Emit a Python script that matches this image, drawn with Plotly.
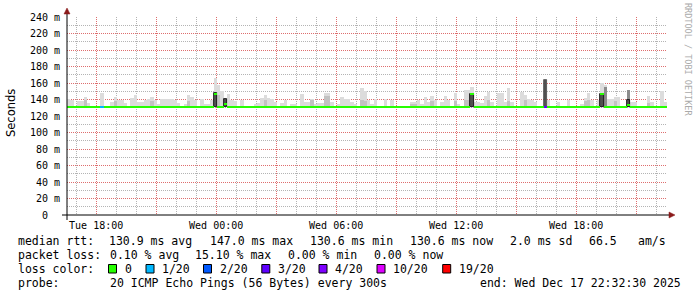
import pandas as pd
import plotly.graph_objects as go

# ---------------- data ----------------
start_time = pd.Timestamp("2025-12-16 16:32:30")
end_time = pd.Timestamp("2025-12-17 22:32:30")
step_minutes = 10
min_ping_ms = 130.6

N = None
# median rtt per 10-minute bin (ms)
median_ms = [
    130.8, 130.8, 130.8, 130.8, 130.8, 130.8, 130.8, 130.8, 130.8, 130.8,
    130.8, 130.8, 130.8, 130.8, 130.8, 130.8, 130.8, 130.8, 130.8, 130.8,
    130.8, 130.8, 130.8, 130.8, 130.8, 130.8, 130.8, 130.8, 130.8, 130.8,
    130.8, 130.8, 130.8, 130.8, 130.8, 130.8, 130.8, 130.8, 130.8, 130.8,
    130.8, 130.8, 130.8, 130.8, 146.6, 130.8, 130.8, 134.5, 130.8, 130.8,
    130.8, 130.8, 130.8, 130.8, 130.8, 130.8, 130.8, 130.8, 130.8, 130.8,
    130.8, 130.8, 130.8, 130.8, 130.8, 130.8, 130.8, 130.8, 130.8, 130.8,
    130.8, 130.8, 130.8, 130.8, 130.8, 130.8, 130.8, 130.8, 130.8, 130.8,
    130.8, 130.8, 130.8, 130.8, 130.8, 130.8, 130.8, 130.8, 130.8, 130.8,
    130.8, 130.8, 130.8, 130.8, 130.8, 130.8, 130.8, 130.8, 130.8, 130.8,
    130.8, 130.8, 130.8, 130.8, 130.8, 130.8, 130.8, 130.8, 130.8, 130.8,
    130.8, 130.8, 130.8, 130.8, 130.8, 130.8, 130.8, 130.8, 130.8, 130.8,
    130.8, 146.6, 130.8, 130.8, 130.8, 130.8, 130.8, 130.8, 130.8, 130.8,
    130.8, 130.8, 130.8, 130.8, 130.8, 130.8, 130.8, 130.8, 130.8, 130.8,
    130.8, 130.8, 130.8, 130.8, 130.8, 130.8, 130.8, 130.8, 130.8, 130.8,
    130.8, 130.8, 130.8, 130.8, 130.8, 130.8, 130.8, 130.8, 130.8, 130.8,
    146.6, 130.8, 130.8, 130.8, 130.8, 130.8, 130.8, 130.8, 133.5, 130.8,
    130.8, 130.8, 130.8, 130.8, 130.8, 130.8, 130.8, 130.8, 130.8, 130.8,
]

# lost pings (out of 20) per bin
loss_count = [
    0, 0, 0, 0, 0, 0, 0, 0, 0, 0,
    1, 0, 0, 0, 0, 0, 0, 0, 0, 0,
    0, 0, 0, 0, 0, 0, 0, 0, 0, 0,
    0, 0, 0, 0, 0, 0, 0, 0, 0, 0,
    0, 0, 0, 0, 0, 0, 0, 0, 0, 0,
    0, 0, 0, 0, 0, 0, 0, 0, 0, 0,
    0, 0, 0, 0, 0, 0, 0, 0, 0, 0,
    0, 0, 0, 0, 0, 0, 0, 0, 0, 0,
    0, 0, 0, 0, 0, 0, 0, 0, 0, 0,
    0, 0, 0, 0, 0, 0, 0, 0, 0, 0,
    0, 0, 0, 0, 0, 0, 0, 0, 0, 0,
    0, 0, 0, 0, 0, 0, 0, 0, 0, 0,
    0, 0, 0, 0, 0, 0, 0, 0, 0, 0,
    0, 0, 0, 0, 0, 0, 0, 0, 0, 0,
    0, 0, 0, 3, 0, 0, 0, 0, 0, 0,
    0, 0, 0, 0, 0, 0, 0, 0, 0, 0,
    0, 0, 0, 0, 0, 0, 0, 0, 0, 0,
    0, 0, 0, 0, 0, 0, 0, 0, 0, 0,
]

# outer smoke (highest pings) per bin, ms
smoke_outer_ms = [
    140.6, 139, N, 138, 138, 142.6, 136, N, N, N,
    148, N, N, 137, 142.6, 140, 140, 136, N, 142,
    145, 137, 137, 140, 141, 143, 140, 134, 141, 141,
    141, 141, 139, 136, N, 135, 145.5, 143, 139, N,
    141, 135, 135, 140, 166, 157, 150, 141, 147, 139,
    138, N, 140, N, N, N, 135, 136, 142, 145,
    142, 141, 137, N, 136, 139, N, 135, 135, N,
    147, 137, 137, 141, 134, 136, 136, 148, 148, 137,
    N, 135, 143, 141, 141, 137, 134, N, 154, 150,
    139, 135, 141, N, N, 141, N, 140, N, N,
    N, N, N, 137, 137, 139, 135, 143, 137, 144,
    140, N, 137, 144, 140, N, 147.5, 135, N, 151,
    152, 155.5, 137, 137, 136, 144, 149.5, 137, N, 147.5,
    147.5, 137, 153.6, 137, N, N, 149.5, 145, 141, 139,
    137, N, N, 163.6, 140, N, N, 137, N, N,
    139, N, N, N, 134, 142, 148, 140, N, 139,
    160, 158, 141, 141, 143, 143, N, N, 151, 137,
    137, N, N, N, 144, 137, N, N, 150, 137,
]

# inner smoke (middle pings) per bin, ms
smoke_inner_ms = [
    N, N, N, N, N, 140, N, N, N, N,
    N, N, N, N, 138, N, N, N, N, N,
    N, N, N, N, N, 138, N, N, N, N,
    N, N, N, N, N, N, 138, N, N, N,
    N, N, N, N, N, 145, N, N, N, N,
    N, N, N, N, N, N, N, N, N, 139,
    N, N, N, N, N, N, N, N, N, N,
    N, N, N, 140, N, N, N, 144, 144, N,
    N, N, N, N, N, N, N, N, 139, 138,
    N, N, N, N, N, N, N, N, N, N,
    N, N, N, 135, 135, N, N, N, N, 138,
    N, N, N, N, N, N, 138, N, N, 140,
    140, N, N, N, N, N, 140, N, N, N,
    N, N, 138, N, N, N, N, 140, N, N,
    N, N, N, N, N, N, N, N, N, N,
    N, N, N, N, N, 138, 140, N, N, N,
    N, N, N, N, 138, N, N, N, N, N,
    N, N, N, N, 136, N, N, N, N, N,
]

# dense smoke (core pings) per bin, ms
smoke_dense_ms = [
    N, N, N, N, N, N, N, N, N, N,
    N, N, N, N, N, N, N, N, N, N,
    N, N, N, N, N, N, N, N, N, N,
    N, N, N, N, N, N, N, N, N, N,
    N, N, N, N, N, N, N, N, N, N,
    N, N, N, N, N, N, N, N, N, N,
    N, N, N, N, N, N, N, N, N, N,
    N, N, N, N, N, N, N, N, N, N,
    N, N, N, N, N, N, N, N, N, N,
    N, N, N, N, N, N, N, N, N, N,
    N, N, N, N, N, N, N, N, N, N,
    N, N, N, N, N, N, N, N, N, N,
    N, N, N, N, N, N, N, N, N, N,
    N, N, N, N, N, N, N, N, N, N,
    N, N, N, N, N, N, N, N, N, N,
    N, N, N, N, N, N, N, N, N, N,
    N, 155, N, N, N, N, N, N, 151, N,
    N, N, N, N, N, N, N, N, N, N,
]

# darkest smoke core per bin, ms
smoke_core_ms = [
    N, N, N, N, N, N, N, N, N, N,
    N, N, N, N, N, N, N, N, N, N,
    N, N, N, N, N, N, N, N, N, N,
    N, N, N, N, N, N, N, N, N, N,
    N, N, N, N, 148, N, N, 141, N, N,
    N, N, N, N, N, N, N, N, N, N,
    N, N, N, N, N, N, N, N, N, N,
    N, N, N, N, N, N, N, N, N, N,
    N, N, N, N, N, N, N, N, N, N,
    N, N, N, N, N, N, N, N, N, N,
    N, N, N, N, N, N, N, N, N, N,
    N, N, N, N, N, N, N, N, N, N,
    N, 147, N, N, N, N, N, N, N, N,
    N, N, N, N, N, N, N, N, N, N,
    N, N, N, 163.6, N, N, N, N, N, N,
    N, N, N, N, N, N, N, N, N, N,
    147, N, N, N, N, N, N, N, 139, N,
    N, N, N, N, N, N, N, N, N, N,
]

loss_levels = [0, 1, 2, 3, 4, 10, 19]
loss_labels = ["0", "1/20", "2/20", "3/20", "4/20", "10/20", "19/20"]
loss_palette = ["#26ff00", "#00b8ff", "#0059ff", "#5e00ff", "#7e00ff", "#dd00ff", "#ff0000"]

y_tickvals = [0, 20, 40, 60, 80, 100, 120, 140, 160, 180, 200, 220, 240]
y_ticktext = ["0\u00a0\u00a0", "20 m", "40 m", "60 m", "80 m", "100 m", "120 m", "140 m",
              "160 m", "180 m", "200 m", "220 m", "240 m"]
x_tickvals = ["2025-12-16 18:00", "2025-12-16 21:00", "2025-12-17 00:00", "2025-12-17 03:00",
              "2025-12-17 06:00", "2025-12-17 09:00", "2025-12-17 12:00", "2025-12-17 15:00",
              "2025-12-17 18:00", "2025-12-17 21:00"]
x_ticktext = ["Tue 18:00", "", "Wed 00:00", "", "Wed 06:00", "", "Wed 12:00", "", "Wed 18:00", ""]

stats_rtt = ["130.9 ms avg", "147.0 ms max", "130.6 ms min", "130.6 ms now", "2.0 ms sd", "66.5", "am/s"]
stats_loss = ["0.10 % avg", "15.10 % max", "0.00 % min", "0.00 % now"]
probe_text = "20 ICMP Echo Pings (56 Bytes) every 300s"
end_text = "end: Wed Dec 17 22:32:30 2025"

# ---------------- figure ----------------
W, H = 697, 297
L, R, T, B = 67, 30, 17, 82
PW, PH = W - L - R, H - T - B
MONO = "DejaVu Sans Mono"


def px(x):
    return (x - L) / PW


def py(y):
    return (H - B - y) / PH


step_ms = step_minutes * 60 * 1000
centers = [start_time + pd.Timedelta(minutes=step_minutes * (i + 0.5)) for i in range(len(median_ms))]


def smoke_trace(tops, color, line_colors=None):
    xs, bases, hs, lc = [], [], [], []
    for i, t in enumerate(tops):
        if t is None:
            continue
        xs.append(centers[i])
        bases.append(min_ping_ms)
        hs.append(t - min_ping_ms)
        if line_colors is not None:
            lc.append(line_colors[i])
    marker = dict(color=color, line=dict(width=0))
    if line_colors is not None:
        marker["line"] = dict(width=0.8, color=lc)
    return go.Bar(x=xs, y=hs, base=bases, width=step_ms, marker=marker, hoverinfo="skip")


fig = go.Figure()
fig.add_trace(smoke_trace(smoke_outer_ms, "#dcdcdc"))
fig.add_trace(smoke_trace(smoke_inner_ms, "#c2c2c2"))
fig.add_trace(smoke_trace(smoke_dense_ms, "#8c8c8c"))
core_lines = ["#000000" if m > min_ping_ms + 1.5 else "#505050" for m in median_ms]
fig.add_trace(smoke_trace(smoke_core_ms, "#505050", core_lines))

color_of = dict(zip(loss_levels, loss_palette))
line_h = 3.0
fig.add_trace(go.Bar(
    x=centers, y=[line_h] * len(median_ms), base=[m - line_h / 2 for m in median_ms],
    width=step_ms, marker=dict(color=[color_of[c] for c in loss_count], line=dict(width=0)),
    hoverinfo="skip"))

major_grid = "rgba(240,80,80,0.7)"
minor_grid = "rgba(130,130,130,0.6)"

fig.update_layout(
    width=W, height=H, margin=dict(l=L, r=R, t=T, b=B),
    paper_bgcolor="white", plot_bgcolor="white",
    barmode="overlay", bargap=0, showlegend=False, hovermode=False,
    font=dict(family=MONO, size=10, color="black"),
    xaxis=dict(
        type="date", range=[start_time, end_time],
        tickmode="array", tickvals=x_tickvals, ticktext=x_ticktext,
        showgrid=True, gridcolor=major_grid, griddash="1px,1px", gridwidth=1,
        minor=dict(dtick=3600000, tick0="2025-12-16 18:00", showgrid=True,
                   gridcolor=minor_grid, griddash="1px,1px", gridwidth=1),
        ticks="", showline=False, zeroline=False,
        tickfont=dict(family=MONO, size=10, color="black"), ticklabelstandoff=3,
    ),
    yaxis=dict(
        range=[0, 240], tickmode="array", tickvals=y_tickvals, ticktext=y_ticktext,
        showgrid=True, gridcolor=major_grid, griddash="1px,1px", gridwidth=1,
        minor=dict(dtick=10, tick0=0, showgrid=True, gridcolor=minor_grid,
                   griddash="1px,1px", gridwidth=1),
        ticks="", showline=False, zeroline=False,
        tickfont=dict(family=MONO, size=10, color="black"), ticklabelstandoff=6,
    ),
)

# axes with arrows
arrow = "#8b1a1a"
fig.add_shape(type="line", xref="paper", yref="paper", x0=px(67), x1=px(67), y0=py(220), y1=py(12),
              line=dict(color="black", width=1))
fig.add_shape(type="line", xref="paper", yref="paper", x0=px(62), x1=px(670), y0=py(215), y1=py(215),
              line=dict(color="black", width=1))
fig.add_shape(type="path", xref="paper", yref="paper",
              path=f"M {px(64)},{py(14)} L {px(70)},{py(14)} L {px(67)},{py(8)} Z",
              fillcolor=arrow, line=dict(color=arrow, width=0.5))
fig.add_shape(type="path", xref="paper", yref="paper",
              path=f"M {px(669)},{py(212)} L {px(669)},{py(218)} L {px(675)},{py(215)} Z",
              fillcolor=arrow, line=dict(color=arrow, width=0.5))


def text(x, y, s, size=11.5, color="black", angle=0, xanchor="left", family=MONO):
    fig.add_annotation(x=px(x), y=py(y), xref="paper", yref="paper", text=s, showarrow=False,
                       xanchor=xanchor, yanchor="middle", textangle=angle,
                       font=dict(family=family, size=size, color=color))


text(11, 113, "Seconds", size=11.5, angle=-90, xanchor="center", family="DejaVu Sans")
text(688, 59, "RRDTOOL / TOBI OETIKER", size=8.5, color="#aaaaaa", angle=90, xanchor="center")

# legend lines
text(16, 241, "median rtt:")
for xx, s in zip([107, 207.5, 308, 408, 507.5, 586.5, 635.5], stats_rtt):
    text(xx, 241, s)
text(16, 255, "packet loss:")
for xx, s in zip([107.5, 193.3, 285.8, 372.4], stats_loss):
    text(xx, 255, s)
text(16, 269, "loss color:")
for xx, lab, col in zip([108.5, 146, 203.5, 261.8, 319, 377, 442.7], loss_labels, loss_palette):
    fig.add_shape(type="rect", xref="paper", yref="paper", x0=px(xx), x1=px(xx + 8),
                  y0=py(273), y1=py(264.5), fillcolor=col, line=dict(color="black", width=1))
    text(xx + 14, 269, lab)
text(16, 283, "probe:")
text(107.5, 283, probe_text)
text(478, 283, end_text)

fig.write_html("out.html")
